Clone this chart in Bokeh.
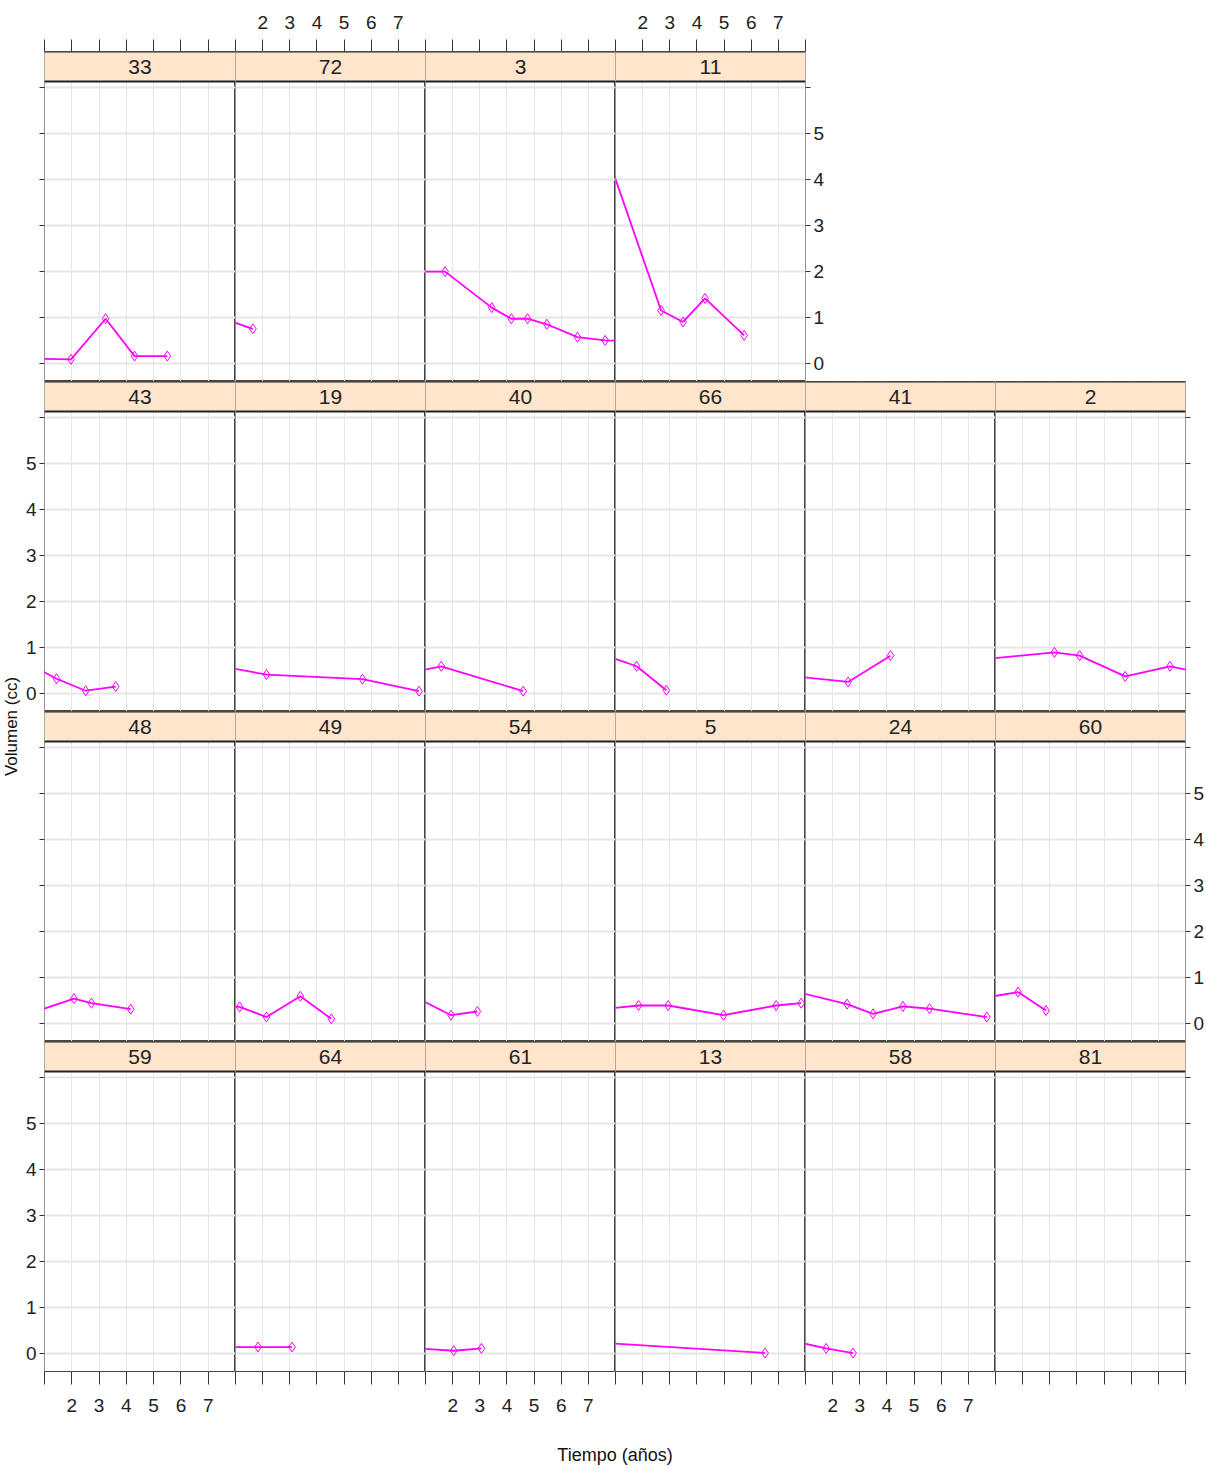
import math
from bokeh.plotting import figure
from bokeh.layouts import row, column
from bokeh.models import (LinearAxis, FixedTicker, Grid, Range1d, BoxAnnotation,
                          Label, Span, ColumnDataSource)
from bokeh.embed import file_html
from bokeh.resources import INLINE
from bokeh.core.properties import value

# ---------------- data (time in years, volume in cc) ----------------
panel_order = [["33", "72", "3", "11"],
               ["43", "19", "40", "66", "41", "2"],
               ["48", "49", "54", "5", "24", "60"],
               ["59", "64", "61", "13", "58", "81"]]

t33 = [0, 1.97, 3.24, 4.30, 5.50]
v33 = [0.12, 0.10, 0.98, 0.17, 0.17]
t72 = [0, 1.64]
v72 = [1.09, 0.76]
t3 = [0, 1.72, 3.44, 4.16, 4.76, 5.47, 6.60, 7.62, 9.0]
v3 = [2.0, 2.0, 1.22, 0.98, 0.98, 0.86, 0.58, 0.51, 0.50]
t11 = [0, 2.68, 3.49, 4.30, 5.74]
v11 = [5.69, 1.16, 0.91, 1.42, 0.62]
t43 = [0, 1.44, 2.51, 3.61]
v43 = [0.79, 0.33, 0.07, 0.16]
t19 = [0, 2.14, 5.68, 7.76]
v19 = [0.65, 0.42, 0.32, 0.06]
t40 = [0, 1.58, 4.60]
v40 = [0.41, 0.60, 0.06]
t66 = [0, 1.78, 2.87]
v66 = [0.96, 0.60, 0.08]
t41 = [0, 2.57, 4.13]
v41 = [0.42, 0.26, 0.83]
t2 = [0, 3.17, 4.10, 5.78, 7.43, 9.0]
v2 = [0.72, 0.90, 0.83, 0.38, 0.60, 0.41]
t48 = [0, 2.08, 2.72, 4.16]
v48 = [0.13, 0.55, 0.45, 0.32]
t49 = [0, 1.15, 2.14, 3.39, 4.53]
v49 = [0.42, 0.37, 0.15, 0.60, 0.11]
t54 = [0, 1.94, 2.91]
v54 = [0.77, 0.19, 0.27]
t5 = [0, 1.85, 2.94, 4.98, 6.92, 7.84]
v5 = [0.29, 0.40, 0.40, 0.19, 0.40, 0.45]
t24 = [0, 2.53, 3.49, 4.59, 5.57, 7.68]
v24 = [0.79, 0.43, 0.22, 0.38, 0.33, 0.15]
t60 = [0, 1.83, 2.86]
v60 = [0.51, 0.69, 0.29]
t59 = []
v59 = []
t64 = [0, 1.83, 3.08]
v64 = [0.15, 0.15, 0.15]
t61 = [0, 2.04, 3.06]
v61 = [0.15, 0.07, 0.12]
t13 = [0, 6.51]
v13 = [0.26, 0.02]
t58 = [0, 1.76, 2.75]
v58 = [0.35, 0.12, 0.02]
t81 = []
v81 = []

series = {
    "33": (t33, v33), "72": (t72, v72), "3": (t3, v3), "11": (t11, v11),
    "43": (t43, v43), "19": (t19, v19), "40": (t40, v40), "66": (t66, v66),
    "41": (t41, v41), "2": (t2, v2), "48": (t48, v48), "49": (t49, v49),
    "54": (t54, v54), "5": (t5, v5), "24": (t24, v24), "60": (t60, v60),
    "59": (t59, v59), "64": (t64, v64), "61": (t61, v61), "13": (t13, v13),
    "58": (t58, v58), "81": (t81, v81),
}

X_TICKS = [1, 2, 3, 4, 5, 6, 7, 8]
Y_TICKS = [0, 1, 2, 3, 4, 5, 6]
X_LABELED = [2, 3, 4, 5, 6, 7]
Y_LABELED = [0, 1, 2, 3, 4, 5]

# ---------------- layout constants ----------------
XLO, XHI = 0.999, 8.001
YLO, YHI = -0.38, 6.12
PANEL_H, STRIP_H = 300, 30
YTOP = YHI + STRIP_H * (YHI - YLO) / PANEL_H
COL_W = [191, 190, 190, 190, 190, 190]
YW = 21          # width of the y-title strip
LB = 23          # left border of first column
TB = 51          # top border of first row
BB = 65          # bottom border of last row
TOTAL_H = 1472

MAGENTA = "#FF00FF"
STRIP_FILL = "#FFE5CC"
GRID_C = "#E6E6E6"
DARK = "#333333"
FONT = "Liberation Sans"
TICK_FS = "19px"


def overrides(ticks, labeled, is_labeled):
    return {t: (str(t) if (is_labeled and t in labeled) else "") for t in ticks}


def x_axis(labeled, out, standoff):
    return LinearAxis(ticker=FixedTicker(ticks=X_TICKS),
                      major_label_overrides=overrides(X_TICKS, X_LABELED, labeled),
                      axis_line_color=None, major_tick_line_color=DARK,
                      major_tick_out=out, major_tick_in=0,
                      minor_tick_line_color=None, major_label_standoff=standoff,
                      major_label_text_font=FONT, major_label_text_font_size=TICK_FS,
                      major_label_text_color="#222222")


def y_axis(labeled):
    return LinearAxis(ticker=FixedTicker(ticks=Y_TICKS),
                      major_label_overrides=overrides(Y_TICKS, Y_LABELED, labeled),
                      axis_line_color=None, major_tick_line_color=DARK,
                      major_tick_out=5, major_tick_in=0,
                      minor_tick_line_color=None, major_label_standoff=3,
                      major_label_text_font=FONT, major_label_text_font_size=TICK_FS,
                      major_label_text_color="#222222")


def make_panel(pid, r, c, ncols):
    last = (c == ncols - 1)
    right_labeled = last and r in (0, 2)
    p = figure(frame_width=COL_W[c], frame_height=PANEL_H + STRIP_H,
               x_range=Range1d(XLO, XHI), y_range=Range1d(YLO, YTOP),
               x_axis_location=None, y_axis_location=None,
               toolbar_location=None, output_backend="svg",
               min_border_left=LB if c == 0 else 0,
               min_border_right=(20 if right_labeled else (6 if last else 0)),
               min_border_top=TB if r == 0 else 0,
               min_border_bottom=BB if r == 3 else 0,
               background_fill_color="white", border_fill_color="white",
               outline_line_color="#444444", outline_line_width=1)
    p.center = [g for g in p.center if not isinstance(g, Grid)]
    p.add_layout(Grid(dimension=0, ticker=FixedTicker(ticks=X_TICKS),
                      grid_line_color=GRID_C, grid_line_width=1))
    p.add_layout(Grid(dimension=1, ticker=FixedTicker(ticks=Y_TICKS),
                      grid_line_color=GRID_C, grid_line_width=2))

    t, v = series[pid]
    src = ColumnDataSource(data=dict(t=t, v=v))
    p.line(x="t", y="v", source=src, line_color=MAGENTA, line_width=1.8)
    p.scatter(x="t", y="v", source=src, marker="diamond", size=10,
              line_color=MAGENTA, fill_color=None, line_width=1)

    # strip (header) with the subject id
    p.add_layout(BoxAnnotation(left=XLO, right=XHI, bottom=YHI, top=YTOP,
                               fill_color=STRIP_FILL, fill_alpha=1.0,
                               line_color=None))
    p.add_layout(Span(location=YHI, dimension="width", line_color="#222222",
                      line_width=2))
    p.add_layout(Span(location=YTOP, dimension="width", line_color="#222222",
                      line_width=2))
    p.add_layout(Label(x=(XLO + XHI) / 2, y=(YHI + YTOP) / 2, text=pid,
                       text_align="center", text_baseline="middle",
                       text_font=FONT, text_font_size="21px",
                       text_color="#222222"))

    # axes (lattice-style alternating)
    if r == 0:
        p.add_layout(x_axis(c in (1, 3), 12, 11), "above")
    if r == 3:
        p.add_layout(x_axis(c in (0, 2, 4), 13, 14), "below")
    if c == 0:
        p.add_layout(y_axis(r in (1, 3)), "left")
    if last:
        p.add_layout(y_axis(right_labeled), "right")
    return p


rows = []
for r, ids in enumerate(panel_order):
    figs = [make_panel(pid, r, c, len(ids)) for c, pid in enumerate(ids)]
    rows.append(row(*figs, spacing=0))

# x title
xlab_h = TOTAL_H - (TB + 4 * (PANEL_H + STRIP_H) + BB)
xl = figure(frame_width=sum(COL_W), frame_height=xlab_h,
            x_range=Range1d(0, 1), y_range=Range1d(0, 1),
            x_axis_location=None, y_axis_location=None,
            toolbar_location=None, output_backend="svg",
            min_border_left=LB, min_border_right=0, min_border_top=0,
            min_border_bottom=0, outline_line_color=None)
xl.center = []
xl.text(x=[0.5], y=[0.5], text=["Tiempo (años)"], text_align="center",
        text_baseline="middle", text_font=value(FONT),
        text_font_size="18px", text_color="#111111")

# y title
yl = figure(frame_width=YW, frame_height=TOTAL_H - 20,
            x_range=Range1d(0, 1), y_range=Range1d(0, 1),
            x_axis_location=None, y_axis_location=None,
            toolbar_location=None, output_backend="svg",
            min_border_left=0, min_border_right=0, min_border_top=0,
            min_border_bottom=20, outline_line_color=None)
yl.center = []
yl.text(x=[0.5], y=[0.5], text=["Volumen (cc)"], angle=math.pi / 2,
        text_align="center", text_baseline="middle",
        text_font=value(FONT), text_font_size="17px",
        text_color="#111111")

layout = row(yl, column(*rows, xl, spacing=0), spacing=0)

open("out.html", "w").write(file_html(layout, INLINE))
